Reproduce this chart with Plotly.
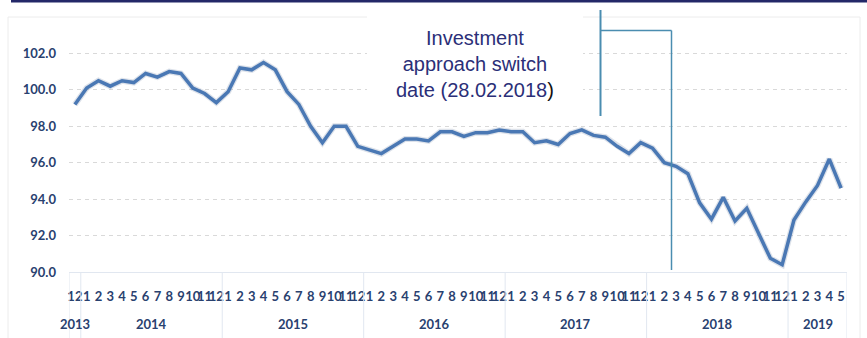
import plotly.graph_objects as go

# ---- data ----
year_labels = ["2013", "2014", "2015", "2016", "2017", "2018", "2019"]
months_per_year = [[12], list(range(1, 13)), list(range(1, 13)), list(range(1, 13)),
                   list(range(1, 13)), list(range(1, 13)), list(range(1, 6))]
values = [99.2, 100.1, 100.5, 100.2, 100.5, 100.4, 100.9, 100.7, 101.0, 100.9, 100.1, 99.8,
          99.3, 99.9, 101.2, 101.1, 101.5, 101.1, 99.9, 99.2, 98.0, 97.1, 98.0, 98.0,
          96.9, 96.7, 96.5, 96.9, 97.3, 97.3, 97.2, 97.7, 97.7, 97.45, 97.65, 97.65,
          97.8, 97.7, 97.7, 97.1, 97.2, 97.0, 97.6, 97.8, 97.5, 97.4, 96.9, 96.5,
          97.1, 96.8, 96.0, 95.8, 95.4, 93.8, 92.9, 94.1, 92.8, 93.5, 92.1, 90.75,
          90.4, 92.85, 93.85, 94.75, 96.2, 94.6]
y_ticks = [90.0, 92.0, 94.0, 96.0, 98.0, 100.0, 102.0]
annotation_text = "Investment<br>approach switch<br>date (28.02.2018<span style='color:#111'>)</span>"

month_labels = [str(m) for ms in months_per_year for m in ms]
xs = list(range(len(values)))

W, H = 867, 338
ML, MR, MT, MB = 69, 20, 17, 66
PW, PH = W - ML - MR, H - MT - MB

def px(x):
    return (x - ML) / PW

def py(y):
    return (H - MB - y) / PH

NAVY = "#29416f"
fig = go.Figure()
fig.add_trace(go.Scatter(x=xs, y=values, mode="lines",
                         line=dict(color="rgba(120,140,170,0.25)", width=6),
                         hoverinfo="skip", showlegend=False))
fig.add_trace(go.Scatter(x=xs, y=values, mode="lines",
                         line=dict(color="#4a78b4", width=3.5), showlegend=False))

shapes = []
# year separators
bounds = [-0.5]
for ms in months_per_year:
    bounds.append(bounds[-1] + len(ms))
for b in bounds:
    shapes.append(dict(type="line", xref="x", yref="paper", x0=b, x1=b, y0=0, y1=py(340),
                       line=dict(color="#e1e7f0", width=1)))
# outer faint border
shapes.append(dict(type="rect", xref="paper", yref="paper", x0=px(8), x1=px(860), y0=py(345), y1=py(17),
                   line=dict(color="#ececec", width=1), layer="below"))
# top navy bar
shapes.append(dict(type="rect", xref="paper", yref="paper", x0=px(11), x1=px(870), y0=py(2.5), y1=py(-1),
                   line=dict(width=0), fillcolor="#232868"))
# white box behind text
shapes.append(dict(type="rect", xref="paper", yref="paper", x0=px(367), x1=px(583), y0=py(108), y1=py(8),
                   line=dict(width=0), fillcolor="white", layer="above"))
# callout lines
LC = "#4a8db0"
shapes.append(dict(type="line", xref="paper", yref="paper", x0=px(600.5), x1=px(600.5), y0=py(10), y1=py(116),
                   line=dict(color=LC, width=2)))
shapes.append(dict(type="line", xref="paper", yref="paper", x0=px(600.5), x1=px(671.5), y0=py(30.5), y1=py(30.5),
                   line=dict(color=LC, width=1.5)))
shapes.append(dict(type="line", xref="paper", yref="paper", x0=px(671.5), x1=px(671.5), y0=py(30.5), y1=py(270),
                   line=dict(color=LC, width=1.5)))

annotations = []
for yl, ms, b in zip(year_labels, months_per_year, bounds):
    annotations.append(dict(x=b + len(ms) / 2, y=py(324), xref="x", yref="paper", text=yl,
                            showarrow=False,
                            font=dict(family="Lato", size=13, color=NAVY, weight="bold"),
                            xanchor="center", yanchor="middle"))
annotations.append(dict(x=px(475), y=py(64), xref="paper", yref="paper", text=annotation_text,
                        showarrow=False, align="center",
                        font=dict(family="Liberation Sans, Arial", size=20, color="#2b2f78"),
                        xanchor="center", yanchor="middle"))

fig.update_layout(
    width=W, height=H, margin=dict(l=ML, r=MR, t=MT, b=MB),
    paper_bgcolor="white", plot_bgcolor="white",
    shapes=shapes, annotations=annotations,
    xaxis=dict(range=[-0.5, len(values) - 0.5], tickmode="array", tickvals=xs, ticktext=month_labels,
               tickangle=0, showgrid=False, zeroline=False, showline=True, linecolor="#e1e7f0",
               linewidth=1, ticks="", ticklabelstandoff=12,
               tickfont=dict(family="Lato", size=13, color=NAVY, weight="bold")),
    yaxis=dict(range=[90, 104], tickmode="array", tickvals=y_ticks,
               ticktext=[f"{v:.1f}" for v in y_ticks], showgrid=True, gridcolor="#d9d9d9",
               griddash="4px,4px", gridwidth=1, zeroline=False, showline=False, ticks="",
               ticklabelstandoff=12,
               tickfont=dict(family="Lato", size=13, color=NAVY, weight="bold")),
)
fig.write_html("out.html")
